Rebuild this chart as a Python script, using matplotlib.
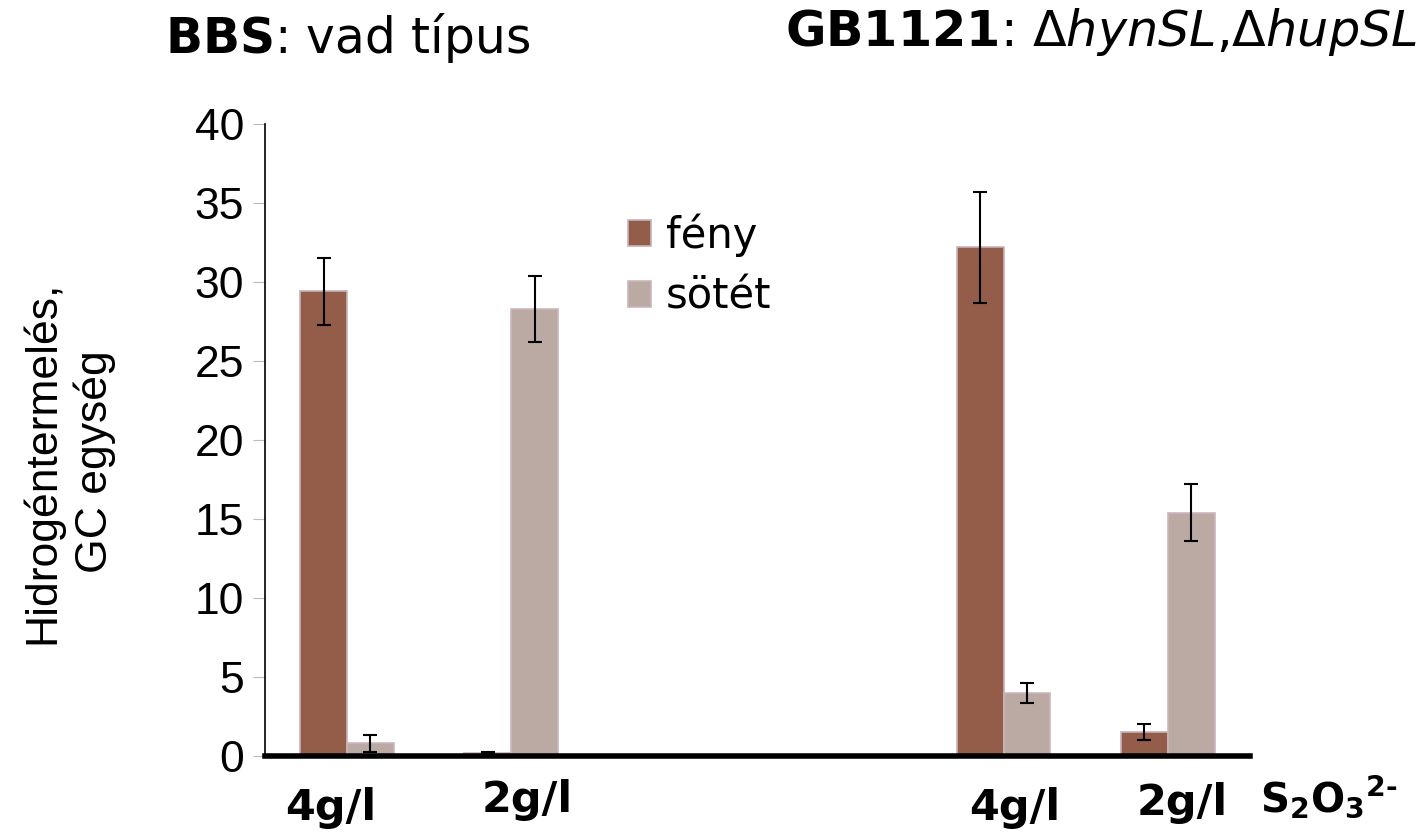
import numpy as np
import matplotlib.pyplot as plt

groups = ["4g/l", "2g/l", "4g/l", "2g/l"]
group_pos = [0, 1, 4, 5]
feny = [29.4, 0.2, 32.2, 1.5]
feny_err = [2.1, 0.05, 3.5, 0.5]
sotet = [0.8, 28.3, 4.0, 15.4]
sotet_err = [0.55, 2.1, 0.65, 1.8]
yticks = [0, 5, 10, 15, 20, 25, 30, 35, 40]

plt.rcParams['mathtext.fontset'] = 'dejavusans'

fig = plt.figure(figsize=(14.26, 8.36), dpi=100)
ax = fig.add_axes([0.1858, 0.0957, 0.6907, 0.756])

w = 0.285
x = np.array(group_pos)
ax.bar(x - w / 2, feny, w, color="#935d4a", edgecolor="#c9b1b8", linewidth=1.2,
       yerr=feny_err, capsize=5, error_kw=dict(elinewidth=1.5, capthick=1.5), label="fény")
ax.bar(x + w / 2, sotet, w, color="#bbaaa4", edgecolor="#cdb5bc", linewidth=1.2,
       yerr=sotet_err, capsize=5, error_kw=dict(elinewidth=1.5, capthick=1.5), label="sötét")

ax.set_xlim(-0.5, 5.5)
ax.set_ylim(0, 40)
ax.set_yticks(yticks)
ax.tick_params(axis='y', labelsize=32, length=9, color="#bbbbbb", pad=6)
for lab in ax.get_yticklabels():
    lab.set_fontfamily("Liberation Sans")
ax.set_xticks([])
ax.spines['top'].set_visible(False)
ax.spines['right'].set_visible(False)
ax.spines['left'].set_linewidth(1.2)
ax.spines['bottom'].set_linewidth(4)

fig.text(68 / 1426, 1 - 462 / 836, "Hidrogéntermelés,\nGC egység", fontsize=32,
         family="Liberation Sans", rotation=90, ha="center", va="center",
         multialignment="center", linespacing=1.3)

# x category labels, sitting a bit off the group centres like in the slide
label_dx = [-0.1, 0.1, 0.07, 0.09]
label_y = [-3.3, -2.8, -3.3, -3.0]
for p, g, dx, ly in zip(group_pos, groups, label_dx, label_y):
    ax.text(p + dx, ly, g, ha="center", va="center", fontsize=31, fontweight="bold",
            clip_on=False)
ax.text(5.56, -2.6, r"$\mathbf{S_2O_3}{}^{\mathbf{2‐}}$", ha="left", va="center",
        fontsize=29, clip_on=False)

ax.legend(loc="upper left", bbox_to_anchor=(0.352, 0.885), frameon=False, fontsize=30,
          handlelength=0.55, handleheight=0.6, handletextpad=0.35, labelspacing=0.45,
          borderaxespad=0)

fig.text(0.116, 0.955, r"$\mathbf{BBS}$: vad típus", fontsize=35, va="center")
fig.text(785 / 1426, 0.962, r"$\mathbf{GB1121}$: Δ$\it{hynSL}$,Δ$\it{hupSL}$",
         fontsize=35.5, va="center")

fig.savefig("out.png", dpi=100)
